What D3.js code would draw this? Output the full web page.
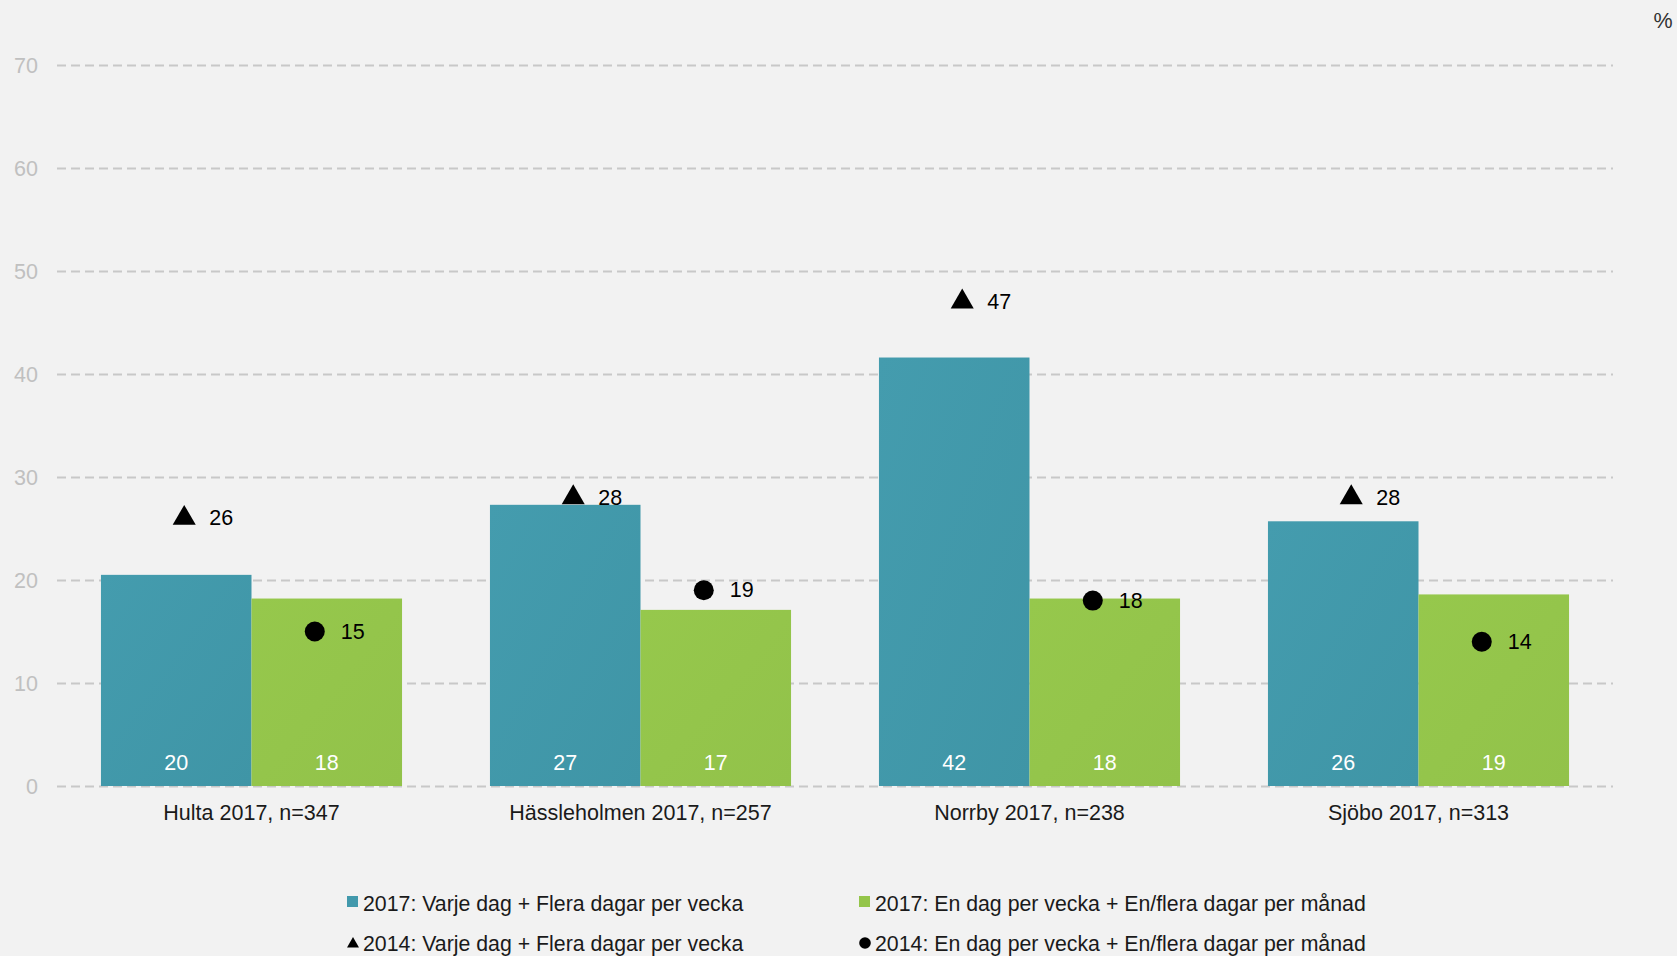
<!DOCTYPE html>
<html>
<head>
<meta charset="utf-8">
<script src="https://cdn.jsdelivr.net/npm/d3@7"></script>
<style>
  html, body { margin: 0; padding: 0; background: #f2f2f2; }
  svg { display: block; }
  text { font-family: "Liberation Sans", Arial, sans-serif; }
</style>
</head>
<body>
<svg id="chart" width="1677" height="956"></svg>
<script>
// ---- Data ----
const categories = ["Hulta 2017, n=347", "Hässleholmen 2017, n=257", "Norrby 2017, n=238", "Sjöbo 2017, n=313"];
const bars2017Frequent = [20.5, 27.3, 41.6, 25.7];
const bars2017FrequentLabels = [20, 27, 42, 26];
const bars2017Occasional = [18.2, 17.1, 18.2, 18.6];
const bars2017OccasionalLabels = [18, 17, 18, 19];
const markers2014Frequent = [26, 28, 47, 28];
const markers2014Occasional = [15, 19, 18, 14];
const yTicks = [0, 10, 20, 30, 40, 50, 60, 70];
const seriesNames = [
  "2017: Varje dag + Flera dagar per vecka",
  "2017: En dag per vecka + En/flera dagar per månad",
  "2014: Varje dag + Flera dagar per vecka",
  "2014: En dag per vecka + En/flera dagar per månad"
];

// ---- Layout ----
const W = 1677, H = 956;
const plot = { left: 57, right: 1613, top: 65, bottom: 786 };
const teal = "#4299ac", green = "#94c54a";
const fontSize = 21.5;

const svg = d3.select("#chart");
svg.append("rect").attr("width", W).attr("height", H).attr("fill", "#f2f2f2");

const defs = svg.append("defs");
function grad(id, c1, c2) {
  const g = defs.append("linearGradient").attr("id", id)
    .attr("x1", "0%").attr("y1", "0%").attr("x2", "100%").attr("y2", "100%");
  g.append("stop").attr("offset", "0%").attr("stop-color", c1);
  g.append("stop").attr("offset", "100%").attr("stop-color", c2);
}
grad("gTeal", "#449cae", "#3f95a6");
grad("gGreen", "#96c84c", "#92c24a");

const y = d3.scaleLinear().domain([0, 70]).range([plot.bottom, plot.top]);
const x0 = d3.scaleBand().domain(categories).range([plot.left, plot.right])
  .paddingInner(0.226).paddingOuter(0.113);
const x1 = d3.scaleBand().domain(["a", "b"]).range([0, x0.bandwidth()]);

// grid lines
const yAxis = d3.axisLeft(y).tickValues(yTicks).tickSize(-(plot.right - plot.left)).tickPadding(19);
const gy = svg.append("g").attr("transform", `translate(${plot.left},0)`).call(yAxis);
gy.select(".domain").remove();
gy.selectAll(".tick line").attr("stroke", "#c8c8c8").attr("stroke-width", 2).attr("stroke-dasharray", "9,5");
gy.selectAll(".tick text").attr("fill", "#c0c0c0").style("font-size", fontSize + "px")
  .attr("font-family", "'Liberation Sans', Arial, sans-serif").attr("dy", "0.35em");

// bars
const groups = svg.append("g").selectAll("g").data(categories).join("g")
  .attr("transform", d => `translate(${x0(d)},0)`);

groups.append("rect")
  .attr("x", x1("a")).attr("width", x1.bandwidth())
  .attr("y", (d, i) => y(bars2017Frequent[i]))
  .attr("height", (d, i) => y(0) - y(bars2017Frequent[i]))
  .attr("fill", "url(#gTeal)");
groups.append("rect")
  .attr("x", x1("b")).attr("width", x1.bandwidth())
  .attr("y", (d, i) => y(bars2017Occasional[i]))
  .attr("height", (d, i) => y(0) - y(bars2017Occasional[i]))
  .attr("fill", "url(#gGreen)");

// bar value labels
groups.append("text")
  .attr("x", x1("a") + x1.bandwidth() / 2).attr("y", y(0) - 23)
  .attr("text-anchor", "middle").attr("dominant-baseline", "central")
  .attr("fill", "#fff").style("font-size", fontSize + "px")
  .text((d, i) => bars2017FrequentLabels[i]);
groups.append("text")
  .attr("x", x1("b") + x1.bandwidth() / 2).attr("y", y(0) - 23)
  .attr("text-anchor", "middle").attr("dominant-baseline", "central")
  .attr("fill", "#fff").style("font-size", fontSize + "px")
  .text((d, i) => bars2017OccasionalLabels[i]);

// markers 2014
const triSym = d3.symbol().type(d3.symbolTriangle).size(230);
groups.append("path")
  .attr("d", triSym)
  .attr("transform", (d, i) => `translate(${x1("a") + x1.bandwidth() / 2 + 8},${y(markers2014Frequent[i])})`)
  .attr("fill", "#000");
groups.append("text")
  .attr("x", x1("a") + x1.bandwidth() / 2 + 8 + 25)
  .attr("y", (d, i) => y(markers2014Frequent[i]))
  .attr("dominant-baseline", "central").attr("fill", "#000")
  .style("font-size", fontSize + "px")
  .text((d, i) => markers2014Frequent[i]);

groups.append("circle")
  .attr("cx", x1("b") + x1.bandwidth() / 2 - 12)
  .attr("cy", (d, i) => y(markers2014Occasional[i]))
  .attr("r", 10).attr("fill", "#000");
groups.append("text")
  .attr("x", x1("b") + x1.bandwidth() / 2 - 12 + 26)
  .attr("y", (d, i) => y(markers2014Occasional[i]))
  .attr("dominant-baseline", "central").attr("fill", "#000")
  .style("font-size", fontSize + "px")
  .text((d, i) => markers2014Occasional[i]);

// category axis labels
const xAxis = d3.axisBottom(x0).tickSize(0).tickPadding(19);
const gx = svg.append("g").attr("transform", `translate(0,${plot.bottom})`).call(xAxis);
gx.select(".domain").remove();
gx.selectAll(".tick text").attr("fill", "#1a1a1a").style("font-size", fontSize + "px")
  .attr("font-family", "'Liberation Sans', Arial, sans-serif");

// % label
svg.append("text").attr("x", 1663).attr("y", 21).attr("text-anchor", "middle")
  .attr("dominant-baseline", "central").attr("fill", "#333").style("font-size", fontSize + "px").text("%");

// legend
const legendItems = [
  { name: seriesNames[0], type: "rect", color: teal, x: 347, y: 904 },
  { name: seriesNames[1], type: "rect", color: green, x: 859, y: 904 },
  { name: seriesNames[2], type: "tri", color: "#000", x: 347, y: 944 },
  { name: seriesNames[3], type: "circle", color: "#000", x: 859, y: 944 }
];
const lg = svg.append("g").selectAll("g").data(legendItems).join("g")
  .attr("transform", d => `translate(${d.x},${d.y})`);
lg.filter(d => d.type === "rect").append("rect")
  .attr("x", 0).attr("y", -8).attr("width", 11).attr("height", 11).attr("fill", d => d.color);
lg.filter(d => d.type === "tri").append("path")
  .attr("d", d3.symbol().type(d3.symbolTriangle).size(62))
  .attr("transform", "translate(6,0)").attr("fill", "#000");
lg.filter(d => d.type === "circle").append("circle")
  .attr("cx", 6).attr("cy", -1).attr("r", 5.8).attr("fill", "#000");
lg.append("text").attr("x", 16).attr("y", 0).attr("dominant-baseline", "central")
  .attr("fill", "#1a1a1a").style("font-size", "21.3px").text(d => d.name);
</script>
</body>
</html>
